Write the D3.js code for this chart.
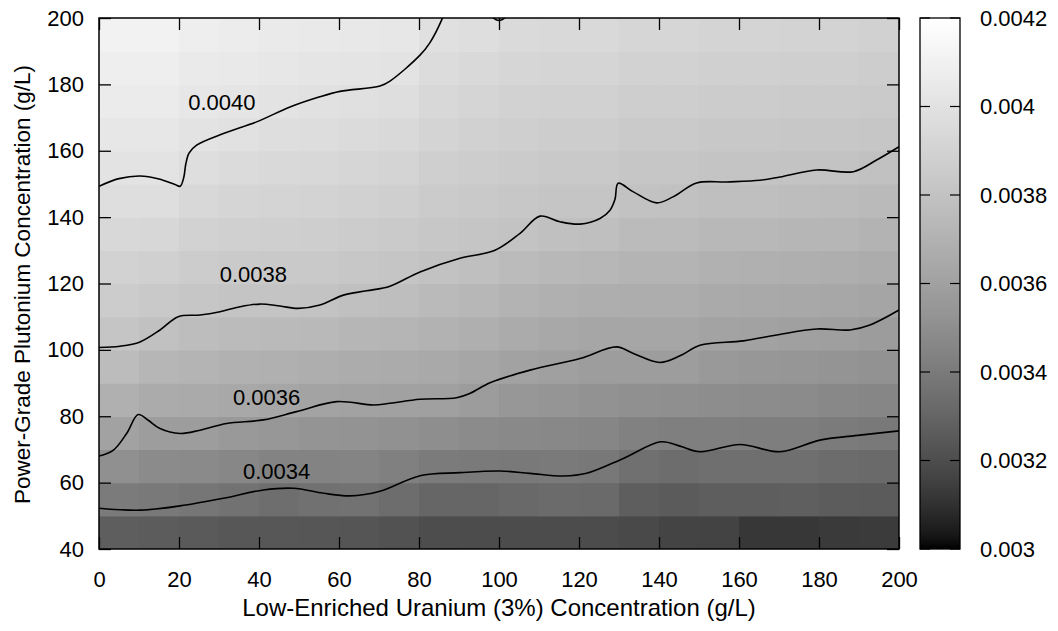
<!DOCTYPE html>
<html>
<head>
<meta charset="utf-8">
<script src="https://cdn.jsdelivr.net/npm/d3@7"></script>
<style>
  html, body { margin: 0; padding: 0; background: #fff; }
  svg text { font-family: "Liberation Sans", Arial, Helvetica, sans-serif; fill: #000; }
</style>
</head>
<body>
<svg id="chart" width="1058" height="631"></svg>
<script>
// Grid cell edges (g/L)
const leuEdges = [0, 10, 20, 30, 40, 50, 60, 70, 80, 90, 100, 110, 120, 130, 140, 150, 160, 170, 180, 190, 200];
const puEdges = [40, 50, 60, 70, 80, 90, 100, 110, 120, 130, 140, 150, 160, 170, 180, 190, 200];

// Cell values, one row per Pu band (bottom to top), one entry per LEU band
const cellValue = [
  [0.00327,0.00326,0.00325,0.00324,0.00324,0.003235,0.00323,0.00322,0.0032,0.003195,0.003195,0.003195,0.003195,0.003185,0.003165,0.00316,0.00312,0.00312,0.00313,0.003135],
  [0.0034,0.00339,0.00338,0.00336,0.00334,0.003355,0.00336,0.003335,0.003305,0.003305,0.003315,0.003325,0.00332,0.00327,0.003255,0.00327,0.00327,0.003275,0.00326,0.003255],
  [0.00351,0.003485,0.00348,0.00346,0.00344,0.00344,0.003445,0.003425,0.0034,0.003395,0.00339,0.003395,0.003385,0.00335,0.003335,0.003345,0.003345,0.003345,0.00333,0.00332],
  [0.00361,0.00358,0.00358,0.00356,0.003545,0.00353,0.003525,0.003515,0.0035,0.003485,0.00347,0.003465,0.003455,0.00343,0.00342,0.00342,0.003415,0.003415,0.0034,0.00339],
  [0.00369,0.003658,0.003653,0.003639,0.00363,0.003611,0.003606,0.003604,0.003596,0.003572,0.003546,0.003535,0.00352,0.003507,0.003504,0.003492,0.003488,0.003481,0.003469,0.003459],
  [0.003759,0.003725,0.003711,0.003696,0.00369,0.003677,0.003666,0.00366,0.003648,0.003632,0.00361,0.003594,0.003577,0.003577,0.003578,0.003556,0.003548,0.003539,0.003531,0.003518],
  [0.003816,0.003793,0.003768,0.003754,0.00375,0.003744,0.003725,0.003715,0.003697,0.003682,0.003657,0.003642,0.00363,0.003628,0.003629,0.003612,0.003606,0.003597,0.003592,0.003576],
  [0.003856,0.00384,0.003818,0.003807,0.003806,0.003805,0.003785,0.003771,0.003747,0.003731,0.003705,0.003689,0.003679,0.003669,0.003669,0.003654,0.003648,0.00364,0.003637,0.003624],
  [0.003897,0.003884,0.003857,0.003844,0.00384,0.003837,0.003825,0.003815,0.003797,0.00378,0.003752,0.003736,0.003728,0.003711,0.00371,0.003695,0.00369,0.003682,0.003679,0.003665],
  [0.003937,0.003929,0.003896,0.003881,0.003875,0.003869,0.003857,0.003848,0.003825,0.003815,0.0038,0.003783,0.003778,0.003752,0.003751,0.003736,0.003733,0.003724,0.003721,0.003706],
  [0.003977,0.003973,0.003935,0.003919,0.003909,0.003901,0.00389,0.00388,0.003853,0.00384,0.003825,0.003816,0.003814,0.003794,0.003792,0.003777,0.003775,0.003766,0.003762,0.003747],
  [0.00401,0.00401,0.003974,0.003956,0.003943,0.003933,0.003923,0.003912,0.00388,0.003865,0.00385,0.003841,0.003839,0.003821,0.00382,0.003811,0.00381,0.003805,0.003803,0.003788],
  [0.004035,0.004035,0.004008,0.003993,0.003977,0.003965,0.003955,0.003944,0.003907,0.00389,0.003875,0.003866,0.003864,0.003846,0.003845,0.003836,0.003835,0.00383,0.003828,0.003818],
  [0.00406,0.00406,0.004033,0.00402,0.004009,0.003997,0.003988,0.003976,0.003934,0.003915,0.0039,0.003891,0.003889,0.003871,0.00387,0.003861,0.00386,0.003855,0.003853,0.003843],
  [0.004085,0.004085,0.004058,0.004045,0.004033,0.004022,0.004016,0.004007,0.003961,0.00394,0.003925,0.003916,0.003914,0.003896,0.003895,0.003886,0.003885,0.00388,0.003878,0.003868],
  [0.00411,0.00411,0.004083,0.00407,0.004058,0.004047,0.004041,0.004032,0.003988,0.003975,0.00395,0.003941,0.003939,0.003921,0.00392,0.003911,0.00391,0.003905,0.003903,0.003893]
];

// Contour lines: [LEU, Pu] points along each level
const contour0034 = [[0,52.3],[10.25,51.7],[20.25,53],[31.1,55.3],[41.1,57.8],[48.6,58.3],[56.1,56.8],[62.75,56],[70.25,57.4],[80.25,62.1],[90.25,63],[100.25,63.5],[107.75,62.8],[116.1,62],[121.9,62.8],[131.1,67.3],[140.5,72.3],[145.25,71],[150.25,69.3],[160.25,71.5],[170.25,69.3],[180.25,72.8],[190.25,74.3],[200,75.6]];
const contour0036 = [[0,68],[3.6,69.8],[6.9,74.8],[9.8,80.5],[12.3,78.8],[15.25,76.3],[20.25,74.8],[25.25,75.8],[31.9,77.8],[41.1,78.9],[49.4,81.4],[59.4,84.4],[68.6,83.4],[72.75,83.9],[80.25,85.1],[89.4,85.6],[92.75,86.9],[97.75,90.1],[107.75,93.9],[120.25,97.4],[129.4,100.9],[133.6,98.9],[140.25,96.2],[145.25,98.2],[150.25,101.4],[161.1,102.7],[169.4,104.5],[179.4,106.3],[187.75,106],[192.75,107.5],[200,112]];
const contour0038 = [[0,100.7],[5.25,101.1],[10.25,102.4],[15.25,106],[19.8,110],[25.25,110.5],[30.25,111.5],[35.25,113],[40.25,113.8],[45.25,113.2],[49.8,112.5],[55.25,113.5],[61.1,116.5],[66.9,117.8],[72.75,119.2],[80.25,123.5],[90.25,127.6],[99,130],[105.25,135.1],[110.25,140.3],[115.25,138.6],[120.25,137.9],[125.25,139.6],[127.75,142.1],[129,145.4],[129.8,150.2],[133.6,147.6],[139.4,144.3],[143.5,146.1],[149.4,150.3],[156.9,150.6],[165.25,151.1],[170.25,152.1],[179.4,154.2],[188.6,153.7],[194.4,157.2],[200,161.2]];
const contour0040 = [[0,149.3],[5,151.6],[10.25,152.4],[15,151.5],[19,149.8],[20.3,149.3],[21.2,152],[21.7,156],[22.5,159.3],[24.4,161.7],[31.1,165.2],[39.4,168.7],[47.75,173.2],[55,176.2],[60.25,177.9],[70.25,179.5],[72.75,181],[80.25,188.8],[82.75,192.6],[85.7,199.5],[86,200.5]];
const contour0040b = [[98.3,200.3],[99.4,199.4],[100.6,199.4],[101.7,200.3]];

// Contour level labels: text and anchor point [LEU, Pu]
const levelLabels = [
  { text: "0.0040", at: [30.7, 174.7] },
  { text: "0.0038", at: [38.6, 122.8] },
  { text: "0.0036", at: [41.9, 85.7] },
  { text: "0.0034", at: [44.4, 63.5] }
];

// Axis ticks
const xTicks = [0, 20, 40, 60, 80, 100, 120, 140, 160, 180, 200];
const yTicks = [40, 60, 80, 100, 120, 140, 160, 180, 200];
const colorTicks = [0.003, 0.0032, 0.0034, 0.0036, 0.0038, 0.004, 0.0042];

const svg = d3.select("#chart");
const plot = { left: 99, right: 899, top: 18, bottom: 549 };
const bar = { left: 920, right: 960, top: 18, bottom: 549 };
const FONT = 22;

const x = d3.scaleLinear().domain([0, 200]).range([plot.left, plot.right]);
const y = d3.scaleLinear().domain([40, 200]).range([plot.bottom, plot.top]);

// gray palette with gamma 1.5
const shade = d3.scaleSequential(t => {
  const g = Math.round(255 * Math.pow(Math.max(0, Math.min(1, t)), 1 / 1.5));
  return d3.rgb(g, g, g).formatHex();
}).domain([0.003, 0.0042]);

const defs = svg.append("defs");
defs.append("clipPath").attr("id", "plotClip")
  .append("rect")
  .attr("x", plot.left).attr("y", plot.top)
  .attr("width", plot.right - plot.left).attr("height", plot.bottom - plot.top);

// heat map cells
const cells = [];
cellValue.forEach((row, j) => row.forEach((v, i) => {
  cells.push({ x0: leuEdges[i], x1: leuEdges[i + 1], y0: puEdges[j], y1: puEdges[j + 1], v });
}));
svg.append("g").attr("clip-path", "url(#plotClip)")
  .selectAll("rect").data(cells).join("rect")
  .attr("x", d => x(d.x0))
  .attr("y", d => y(d.y1))
  .attr("width", d => x(d.x1) - x(d.x0) + 0.6)
  .attr("height", d => y(d.y0) - y(d.y1) + 0.6)
  .attr("fill", d => shade(d.v));

// contour lines
const line = d3.line()
  .x(d => x(d[0])).y(d => y(d[1]))
  .curve(d3.curveCatmullRom.alpha(0.5));
svg.append("g").attr("clip-path", "url(#plotClip)")
  .selectAll("path").data([contour0034, contour0036, contour0038, contour0040, contour0040b]).join("path")
  .attr("d", line)
  .attr("fill", "none").attr("stroke", "#000").attr("stroke-width", 1.6);

svg.append("g").selectAll("text").data(levelLabels).join("text")
  .attr("x", d => x(d.at[0])).attr("y", d => y(d.at[1]))
  .attr("dy", "0.36em")
  .attr("text-anchor", "middle")
  .attr("font-size", FONT)
  .text(d => d.text);

// axes with inward ticks on all four sides
const TICK = 12;
const axisStyle = g => {
  g.select(".domain").remove();
  g.selectAll(".tick line").attr("stroke", "#000").attr("stroke-width", 1.3);
  g.selectAll(".tick text").attr("font-size", FONT).attr("font-family", null);
};
svg.append("g").attr("transform", `translate(0,${plot.bottom})`)
  .call(d3.axisBottom(x).tickValues(xTicks).tickSizeInner(-TICK).tickSizeOuter(0).tickPadding(22).tickFormat(d3.format("d")))
  .call(axisStyle);
svg.append("g").attr("transform", `translate(0,${plot.top})`)
  .call(d3.axisTop(x).tickValues(xTicks).tickSizeInner(-TICK).tickSizeOuter(0).tickFormat(""))
  .call(axisStyle);
svg.append("g").attr("transform", `translate(${plot.left},0)`)
  .call(d3.axisLeft(y).tickValues(yTicks).tickSizeInner(-TICK).tickSizeOuter(0).tickPadding(15).tickFormat(d3.format("d")))
  .call(axisStyle);
svg.append("g").attr("transform", `translate(${plot.right},0)`)
  .call(d3.axisRight(y).tickValues(yTicks).tickSizeInner(-TICK).tickSizeOuter(0).tickFormat(""))
  .call(axisStyle);

svg.append("rect")
  .attr("x", plot.left).attr("y", plot.top)
  .attr("width", plot.right - plot.left).attr("height", plot.bottom - plot.top)
  .attr("fill", "none").attr("stroke", "#000").attr("stroke-width", 1.5);

// axis titles
svg.append("text")
  .attr("x", (plot.left + plot.right) / 2).attr("y", 616)
  .attr("text-anchor", "middle").attr("font-size", 24)
  .text("Low-Enriched Uranium (3%) Concentration (g/L)");
svg.append("text")
  .attr("transform", `translate(30,${(plot.top + plot.bottom) / 2 + 1}) rotate(-90)`)
  .attr("text-anchor", "middle").attr("font-size", 22.5)
  .text("Power-Grade Plutonium Concentration (g/L)");

// color bar
const cb = d3.scaleLinear().domain([0.003, 0.0042]).range([bar.bottom, bar.top]);
const grad = defs.append("linearGradient").attr("id", "cbGrad")
  .attr("x1", 0).attr("y1", 1).attr("x2", 0).attr("y2", 0);
grad.selectAll("stop").data(d3.range(0, 1.0001, 0.02)).join("stop")
  .attr("offset", t => t)
  .attr("stop-color", t => shade(0.003 + t * 0.0012));
svg.append("rect")
  .attr("x", bar.left).attr("y", bar.top)
  .attr("width", bar.right - bar.left).attr("height", bar.bottom - bar.top)
  .attr("fill", "url(#cbGrad)").attr("stroke", "#000").attr("stroke-width", 1.3);
const cbg = svg.append("g");
cbg.selectAll("line.l").data(colorTicks).join("line").attr("class", "l")
  .attr("x1", bar.left).attr("x2", bar.left + 10)
  .attr("y1", d => cb(d)).attr("y2", d => cb(d))
  .attr("stroke", "#000").attr("stroke-width", 1.2);
cbg.selectAll("line.r").data(colorTicks).join("line").attr("class", "r")
  .attr("x1", bar.right - 10).attr("x2", bar.right)
  .attr("y1", d => cb(d)).attr("y2", d => cb(d))
  .attr("stroke", "#000").attr("stroke-width", 1.2);
cbg.selectAll("text").data(colorTicks).join("text")
  .attr("x", 980).attr("y", d => cb(d)).attr("dy", "0.36em")
  .attr("font-size", FONT)
  .text(d => String(+d.toFixed(4)));
</script>
</body>
</html>
